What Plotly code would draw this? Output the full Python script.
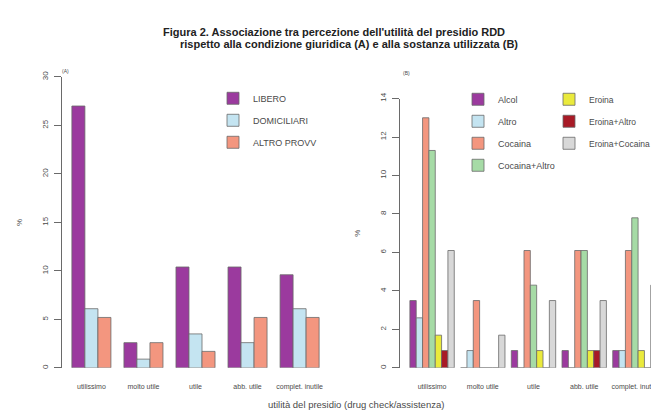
import plotly.graph_objects as go

# ---- data ----
categories = ["utilissimo", "molto utile", "utile", "abb. utile", "complet. inutile"]

# Panel A: condizione giuridica (%)
cond_names = ["LIBERO", "DOMICILIARI", "ALTRO PROVV"]
libero = [27.0, 2.6, 10.4, 10.4, 9.6]
domiciliari = [6.1, 0.9, 3.5, 2.6, 6.1]
altro_provv = [5.2, 2.6, 1.7, 5.2, 5.2]
cond_values = [libero, domiciliari, altro_provv]

# Panel B: sostanza utilizzata (%)
sost_names = ["Alcol", "Altro", "Cocaina", "Cocaina+Altro", "Eroina", "Eroina+Altro", "Eroina+Cocaina"]
alcol = [3.5, 0.0, 0.9, 0.9, 0.9]
altro = [2.6, 0.9, 0.0, 0.0, 0.9]
cocaina = [13.0, 3.5, 6.1, 6.1, 6.1]
cocaina_altro = [11.3, 0.0, 4.3, 6.1, 7.8]
eroina = [1.7, 0.0, 0.9, 0.9, 0.9]
eroina_altro = [0.9, 0.0, 0.0, 0.9, 0.0]
eroina_cocaina = [6.1, 1.7, 3.5, 3.5, 4.3]
sost_values = [alcol, altro, cocaina, cocaina_altro, eroina, eroina_altro, eroina_cocaina]

yticks_a = [0, 5, 10, 15, 20, 25, 30]
yticks_b = [0, 2, 4, 6, 8, 10, 12, 14]

# ---- styles ----
PURPLE = "#9B3A9E"
LBLUE = "#C4E4F1"
SALMON = "#F3967F"
LGREEN = "#A6DBA6"
YELLOW = "#EAEA3C"
DRED = "#A81A26"
LGRAY = "#D8D8D8"
cond_colors = [PURPLE, LBLUE, SALMON]
sost_colors = [PURPLE, LBLUE, SALMON, LGREEN, YELLOW, DRED, LGRAY]
# legend layout for panel B: two columns (column-wise fill)
sost_legend = ["legend2", "legend2", "legend2", "legend2", "legend3", "legend3", "legend3"]

W, H = 659, 411
def px_x(p):
    return p / W
def px_y(p):
    return 1 - p / H

FONT = "Liberation Sans, Arial, sans-serif"
TXT = "#4a4a4a"
LINE = "#6a6a6a"

fig = go.Figure()
xpos = list(range(len(categories)))

wa = 0.25
for i, (name, vals, col) in enumerate(zip(cond_names, cond_values, cond_colors)):
    fig.add_trace(go.Bar(
        x=xpos, y=vals, name=name, xaxis="x", yaxis="y",
        width=wa, offset=-0.375 + i * wa,
        marker=dict(color=col, line=dict(color=LINE, width=0.8)),
        legend="legend", legendgroup=name,
    ))

wb = 0.125
for i, (name, vals, col, lg) in enumerate(zip(sost_names, sost_values, sost_colors, sost_legend)):
    fig.add_trace(go.Bar(
        x=xpos, y=vals, name=name, xaxis="x2", yaxis="y2",
        width=wb, offset=-0.4375 + i * wb,
        marker=dict(color=col, line=dict(color=LINE, width=0.8)),
        legend=lg, legendgroup=name,
    ))

xaxis_common = dict(
    tickmode="array", tickvals=xpos, ticktext=categories,
    showline=False, showgrid=False, zeroline=False, ticks="",
    tickfont=dict(size=7, color=TXT, family=FONT), ticklabelstandoff=13,
)
yaxis_common = dict(
    showline=True, linecolor=LINE, linewidth=1, showgrid=False, zeroline=False,
    ticks="outside", ticklen=7, tickcolor=LINE, tickangle=-90,
    tickfont=dict(size=8, color=TXT, family=FONT), ticklabelstandoff=3,
    title=dict(text="%", font=dict(size=8, color=TXT, family=FONT), standoff=16),
)

def legend_opts(size):
    return dict(
        bgcolor="rgba(0,0,0,0)", borderwidth=0, tracegroupgap=3,
        font=dict(size=size, color=TXT, family=FONT), xanchor="left", yanchor="top",
        itemclick=False, itemdoubleclick=False,
    )

fig.update_layout(
    width=W, height=H,
    margin=dict(l=0, r=0, t=0, b=0),
    paper_bgcolor="white", plot_bgcolor="white",
    barmode="overlay",
    xaxis=dict(domain=[px_x(54), px_x(321)], range=[-0.565, 4.565], anchor="y", **xaxis_common),
    yaxis=dict(domain=[px_y(360), px_y(64)], range=[0, 30], tickvals=yticks_a, anchor="x", **yaxis_common),
    xaxis2=dict(domain=[px_x(392), 1.0], range=[-0.6325, 4.6325], anchor="y2", **xaxis_common),
    yaxis2=dict(domain=[px_y(360), px_y(86)], range=[0, 14], tickvals=yticks_b, anchor="x2", **yaxis_common),
    legend=dict(x=px_x(205), y=px_y(71), **legend_opts(9)),
    legend2=dict(x=px_x(450), y=px_y(72), **legend_opts(9)),
    legend3=dict(x=px_x(541), y=px_y(72), **legend_opts(8.5)),
    showlegend=True,
)

annotations = [
    dict(text="<b>Figura 2. Associazione tra percezione dell'utilità del presidio RDD</b>",
         x=px_x(153), y=px_y(18), xanchor="left", yanchor="middle"),
    dict(text="<b>rispetto alla condizione giuridica (A) e alla sostanza utilizzata (B)</b>",
         x=px_x(170), y=px_y(31), xanchor="left", yanchor="middle"),
]
for a in annotations:
    a.update(xref="paper", yref="paper", showarrow=False,
             font=dict(size=11, color="#222", family=FONT))
extra = [
    dict(text="(A)", x=px_x(57), y=px_y(58), font=dict(size=5, color=TXT, family=FONT)),
    dict(text="(B)", x=px_x(398), y=px_y(60), font=dict(size=5, color=TXT, family=FONT)),
    dict(text="utilità del presidio (drug check/assistenza)", x=px_x(348), y=px_y(397),
         font=dict(size=9.5, color=TXT, family=FONT)),
]
for a in extra:
    a.update(xref="paper", yref="paper", showarrow=False, xanchor="center", yanchor="middle")
fig.update_layout(annotations=annotations + extra)

fig.write_html("out.html")
